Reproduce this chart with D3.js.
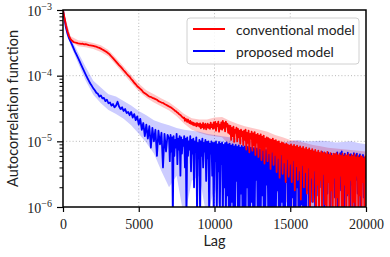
<!DOCTYPE html>
<html>
<head>
<meta charset="utf-8">
<script src="https://cdn.jsdelivr.net/npm/d3@7"></script>
<style>
  body { margin: 0; background: #fff; }
  svg { display: block; }
</style>
</head>
<body>
<div id="chart"></div>
<script>
// autocorrelation
// head: lags 0..6900 every 100, tail: lags 7000..20000 every 50 (the noisy part)
// values <= 0 are negative correlations, they fall below the log axis
const redHead = [
  1.0e-3, 7.6e-4, 5.8e-4, 4.7e-4, 4.0e-4, 3.6e-4, 3.4e-4, 3.25e-4, 3.2e-4, 3.15e-4,
  3.1e-4, 3.08e-4, 3.05e-4, 3.06e-4, 3.0e-4, 3.01e-4, 2.97e-4, 2.93e-4, 2.9e-4, 2.87e-4,
  2.84e-4, 2.8e-4, 2.76e-4, 2.7e-4, 2.65e-4, 2.58e-4, 2.5e-4, 2.43e-4, 2.36e-4, 2.27e-4,
  2.18e-4, 2.08e-4, 1.96e-4, 1.85e-4, 1.74e-4, 1.64e-4, 1.54e-4, 1.45e-4, 1.37e-4, 1.29e-4,
  1.21e-4, 1.14e-4, 1.07e-4, 1.01e-4, 9.6e-5, 8.9e-5, 8.4e-5, 7.8e-5, 7.4e-5, 6.9e-5,
  6.6e-5, 6.3e-5, 6.0e-5, 5.6e-5, 5.4e-5, 5.2e-5, 5.0e-5, 4.8e-5, 4.75e-5, 4.6e-5,
  4.5e-5, 4.4e-5, 4.3e-5, 4.1e-5, 4.0e-5, 3.9e-5, 3.85e-5, 3.7e-5, 3.6e-5, 3.5e-5
];
const redTail = [
  3.4e-5, 3.35e-5, 3.32e-5, 3.25e-5, 3.18e-5, 3.12e-5, 3.05e-5, 3.0e-5, 2.9e-5, 2.88e-5,
  2.8e-5, 2.74e-5, 2.7e-5, 2.6e-5, 2.55e-5, 2.52e-5, 2.45e-5, 2.36e-5, 2.32e-5, 2.26e-5,
  2.3e-5, 2.05e-5, 2.2e-5, 2.12e-5, 1.98e-5, 2.15e-5, 2.0e-5, 1.9e-5, 2.05e-5, 1.85e-5,
  1.96e-5, 1.8e-5, 1.92e-5, 1.75e-5, 1.88e-5, 1.82e-5, 1.7e-5, 1.9e-5, 1.74e-5, 1.84e-5,
  1.68e-5, 1.88e-5, 1.58e-5, 1.8e-5, 1.65e-5, 1.9e-5, 1.55e-5, 1.75e-5, 1.85e-5, 1.52e-5,
  1.7e-5, 1.86e-5, 1.6e-5, 1.78e-5, 1.55e-5, 1.92e-5, 1.65e-5, 1.8e-5, 1.55e-5, 1.95e-5,
  1.6e-5, 1.98e-5, 1.45e-5, 1.85e-5, 1.7e-5, 2.0e-5, 1.4e-5, 1.8e-5, 1.55e-5, 1.95e-5,
  1.5e-5, 2.05e-5, 1.6e-5, 1.9e-5, 1.42e-5, 2.0e-5, 1.68e-5, 1.85e-5, 1.35e-5, 1.75e-5,
  1.3e-5, 1.72e-5, 1.05e-5, 1.6e-5, 1.2e-5, 1.68e-5, 9.8e-6, 1.5e-5, 1.35e-5, 1.62e-5,
  1.0e-5, 1.55e-5, 1.15e-5, 1.45e-5, 9.2e-6, 1.5e-5, 1.2e-5, 1.4e-5, 8.8e-6, 1.45e-5,
  1.05e-5, 1.5e-5, 7.5e-6, 1.35e-5, 9.5e-6, 1.45e-5, 6.8e-6, 1.3e-5, 1.1e-5, 1.4e-5,
  7.2e-6, 1.32e-5, 8.8e-6, 1.38e-5, 6.2e-6, 1.25e-5, 9.6e-6, 1.3e-5, 5.8e-6, 1.22e-5,
  8.0e-6, 1.28e-5, 5.2e-6, 1.18e-5, 7.4e-6, 1.22e-5, 4.6e-6, 1.1e-5, 8.4e-6, 1.15e-5,
  5.0e-6, 1.12e-5, 6.6e-6, 1.08e-5, 3.8e-6, 1.05e-5, 7.0e-6, 1.1e-5, 4.4e-6, 1.02e-5,
  6.2e-6, 1.04e-5, 3.4e-6, 9.8e-6, 5.6e-6, 1.0e-5, 2.8e-6, 9.2e-6, 6.4e-6, 9.6e-6,
  3.2e-6, 9.4e-6, 4.8e-6, 9.0e-6, 2.4e-6, 9.2e-6, 5.4e-6, 8.8e-6, 2.9e-6, 8.6e-6,
  4.6e-6, 9.0e-6, 2.4e-6, 8.4e-6, 5.2e-6, 8.8e-6, 1.8e-6, 8.2e-6, 4.2e-6, 8.6e-6,
  2.6e-6, 8.0e-6, 3.6e-6, 8.4e-6, 1.3e-6, 7.8e-6, 4.4e-6, 8.2e-6, 2.0e-6, 7.6e-6,
  3.4e-6, 8.0e-6, 1.6e-6, 7.4e-6, 4.0e-6, 7.8e-6, -1e-6, 7.2e-6, 2.8e-6, 7.6e-6,
  1.2e-6, 7.0e-6, 3.6e-6, 7.4e-6, -2e-6, 6.8e-6, 2.2e-6, 7.2e-6, 9e-7, 6.6e-6,
  2.6e-6, 7.0e-6, -1e-6, 6.6e-6, 3.2e-6, 6.8e-6, 1.1e-6, 6.4e-6, -2e-6, 6.9e-6,
  2.4e-6, 6.2e-6, -1e-6, 6.6e-6, 1.8e-6, 6.0e-6, -3e-6, 6.5e-6, 2.8e-6, 6.3e-6,
  -1e-6, 6.6e-6, 1.4e-6, 6.1e-6, -2e-6, 6.4e-6, 3.0e-6, 6.0e-6, 8e-7, 6.5e-6,
  -1e-6, 5.9e-6, 2.2e-6, 6.3e-6, -2e-6, 6.0e-6, 1.6e-6, 6.4e-6, -1e-6, 5.8e-6,
  2.6e-6, 6.2e-6, -1e-6, 5.9e-6, 1.2e-6, 6.4e-6, -2e-6, 5.7e-6, 3.0e-6, 6.1e-6,
  -1e-6, 5.6e-6, 1.5e-6, 6.0e-6, -2e-6, 5.8e-6, 2.4e-6, 5.5e-6, -1e-6, 5.9e-6,
  3.0e-6
];
const blueHead = [
  1.0e-3, 7.2e-4, 5.3e-4, 4.3e-4, 3.7e-4, 3.3e-4, 2.95e-4, 2.6e-4, 2.3e-4, 2.07e-4,
  1.85e-4, 1.65e-4, 1.46e-4, 1.3e-4, 1.16e-4, 1.04e-4, 9.3e-5, 8.4e-5, 7.6e-5, 7.0e-5,
  6.4e-5, 6.0e-5, 5.5e-5, 5.3e-5, 4.8e-5, 5.0e-5, 4.5e-5, 4.6e-5, 4.1e-5, 4.3e-5,
  3.8e-5, 3.9e-5, 3.5e-5, 3.7e-5, 3.3e-5, 3.5e-5, 4.0e-5, 3.4e-5, 3.1e-5, 3.3e-5,
  2.9e-5, 3.1e-5, 2.7e-5, 2.8e-5, 2.5e-5, 2.8e-5, 2.3e-5, 2.6e-5, 2.1e-5, 2.4e-5,
  1.8e-5, 2.2e-5, 1.5e-5, 1.9e-5, 1.2e-5, 1.8e-5, 1.1e-5, 1.7e-5, 8e-6, 1.6e-5,
  1.0e-5, 1.5e-5, 6e-6, 1.45e-5, 9e-6, 1.35e-5, 4e-6, 1.3e-5, 7e-6, 1.25e-5
];
const blueTail = [
  1.1e-5, 5e-6, 1.25e-5, 7e-6, 1.15e-5, -1e-6, 1.2e-5, 6e-6, 1.05e-5, 8e-6,
  1.3e-5, 4.5e-6, 1.1e-5, 7.5e-6, 1.2e-5, 3e-6, 1.15e-5, 6.5e-6, 1.05e-5, 8.5e-6,
  1.2e-5, 4e-6, 1.1e-5, -1e-6, 1.15e-5, 6e-6, 1.0e-5, 7.5e-6, 1.2e-5, 3.5e-6,
  1.05e-5, 6.5e-6, 1.1e-5, 2e-6, 1.0e-5, 7e-6, 1.15e-5, -1e-6, 9.5e-6, 5.5e-6,
  1.05e-5, -1e-6, 1.0e-5, 6e-6, 1.1e-5, 4e-6, 9.5e-6, 7e-6, 1.05e-5, 2.5e-6,
  9.8e-6, 5.5e-6, 1.0e-5, -1e-6, 9.2e-6, 6.5e-6, 1.0e-5, 3e-6, 9.5e-6, -1e-6,
  9.5e-6, 5e-6, 1.0e-5, -1e-6, 9e-6, 3.5e-6, 9.8e-6, -1e-6, 9.2e-6, 4.5e-6,
  9.6e-6, -1e-6, 8.8e-6, 2e-6, 9.4e-6, -2e-6, 9.6e-6, 1.5e-6, 9e-6, -1e-6,
  9.2e-6, -1e-6, 8.6e-6, 1.2e-6, 9.0e-6, -2e-6, 8.4e-6, -1e-6, 8.8e-6, 2.5e-6,
  8.2e-6, -1e-6, 8.7e-6, -2e-6, 8.0e-6, 1.6e-6, 8.5e-6, -1e-6, 8.1e-6, -2e-6,
  8.4e-6, -1e-6, 7.8e-6, 2e-6, 8.2e-6, -2e-6, 7.6e-6, -1e-6, 8.0e-6, 1.2e-6,
  7.4e-6, -1e-6, 7.9e-6, -2e-6, 7.5e-6, 2.6e-6, 7.8e-6, -1e-6, 7.2e-6, -2e-6,
  7.6e-6, -1e-6, 7.2e-6, 1.5e-6, 7.5e-6, -2e-6, 7.0e-6, -1e-6, 7.4e-6, 2.2e-6,
  6.9e-6, -1e-6, 7.3e-6, -2e-6, 6.8e-6, 1.0e-6, 7.2e-6, -1e-6, 6.9e-6, -2e-6,
  7.4e-6, -1e-6, 7.0e-6, 1.8e-6, 7.3e-6, -2e-6, 6.8e-6, -1e-6, 7.5e-6, 1.2e-6,
  7.0e-6, -1e-6, 7.4e-6, -2e-6, 6.9e-6, 2.4e-6, 7.6e-6, -1e-6, 7.1e-6, -2e-6,
  7.2e-6, -1e-6, 7.6e-6, 1.4e-6, 7.0e-6, -2e-6, 7.4e-6, -1e-6, 6.8e-6, 2.0e-6,
  7.2e-6, -1e-6, 6.6e-6, -2e-6, 7.0e-6, 1.1e-6, 6.7e-6, -1e-6, 7.1e-6, -2e-6,
  6.6e-6, -1e-6, 7.0e-6, 1.8e-6, 6.4e-6, -2e-6, 6.9e-6, 2.6e-6, 6.5e-6, 1.2e-6,
  7.0e-6, 3.2e-6, 6.2e-6, -1e-6, 6.7e-6, 2.4e-6, 6.0e-6, 1.5e-6, 6.6e-6, 3.0e-6,
  6.4e-6, 2.0e-6, 6.9e-6, 3.5e-6, 6.1e-6, -1e-6, 6.6e-6, 2.8e-6, 6.0e-6, 1.6e-6,
  6.7e-6, 3.2e-6, 6.2e-6, -1e-6, 6.5e-6, 2.2e-6, 5.9e-6, 3.6e-6, 6.4e-6, 1.4e-6,
  6.3e-6, 2.6e-6, 6.8e-6, -1e-6, 6.0e-6, 3.0e-6, 6.6e-6, 1.8e-6, 7.0e-6, 2.4e-6,
  6.1e-6, -1e-6, 6.5e-6, 3.4e-6, 6.0e-6, 1.5e-6, 6.7e-6, 2.8e-6, 6.2e-6, -1e-6,
  6.4e-6, 2.2e-6, 6.0e-6, 3.2e-6, 6.6e-6, -1e-6, 6.1e-6, 2.6e-6, 6.5e-6, 1.6e-6,
  5.9e-6, 3.0e-6, 6.3e-6, -1e-6, 5.8e-6, 2.4e-6, 6.2e-6, 1.4e-6, 5.6e-6, 2.8e-6,
  5.5e-6
];

// shaded spread around each curve, one value every 500 lags
const redUpper = [
  1.0e-3, 4.0e-4, 3.45e-4, 3.35e-4, 3.15e-4, 2.9e-4, 2.45e-4, 1.85e-4, 1.38e-4, 1.02e-4,
  7.6e-5, 6.0e-5, 5.2e-5, 4.5e-5, 3.95e-5, 3.25e-5, 2.6e-5, 2.25e-5, 2.15e-5, 2.15e-5,
  2.3e-5, 2.35e-5, 2.05e-5, 1.85e-5, 1.7e-5, 1.6e-5, 1.5e-5, 1.4e-5, 1.25e-5, 1.15e-5,
  1.05e-5, 1.0e-5, 9.4e-6, 8.8e-6, 8.4e-6, 8.0e-6, 7.8e-6, 7.6e-6, 7.4e-6, 7.2e-6, 7.0e-6
];
const redLower = [
  9.5e-4, 3.3e-4, 2.8e-4, 2.7e-4, 2.55e-4, 2.3e-4, 1.95e-4, 1.45e-4, 1.06e-4, 7.8e-5,
  5.8e-5, 4.6e-5, 3.9e-5, 3.4e-5, 2.95e-5, 2.4e-5, 1.85e-5, 1.5e-5, 1.35e-5, 1.25e-5,
  1.2e-5, 1.15e-5, 8.5e-6, 6.5e-6, 5.0e-6, 4.0e-6, 3.0e-6, 2.4e-6, 1.8e-6, 1.4e-6,
  1.0e-6, 7e-7, -1e-6, -1e-6, -1e-6, -1e-6, -1e-6, -1e-6, -1e-6, -1e-6, -1e-6
];
const blueUpper = [
  1.0e-3, 3.8e-4, 2.25e-4, 1.35e-4, 8.4e-5, 6.6e-5, 5.2e-5, 4.8e-5, 4.1e-5, 3.5e-5,
  2.9e-5, 2.5e-5, 2.1e-5, 1.9e-5, 1.75e-5, 1.6e-5, 1.5e-5, 1.45e-5, 1.4e-5, 1.3e-5,
  1.25e-5, 1.2e-5, 1.15e-5, 1.1e-5, 1.05e-5, 1.0e-5, 9.8e-6, 9.6e-6, 9.4e-6, 9.6e-6,
  1.0e-5, 1.05e-5, 1.0e-5, 1.0e-5, 1.02e-5, 1.0e-5, 9.6e-6, 9.8e-6, 1.0e-5, 9.4e-6, 9.0e-6
];
const blueLower = [
  9.6e-4, 2.9e-4, 1.55e-4, 8.4e-5, 5.1e-5, 3.8e-5, 3.0e-5, 2.6e-5, 2.2e-5, 1.75e-5,
  1.3e-5, 9.5e-6, 6.5e-6, 3.5e-6, 2e-6, 3e-6, -1e-6, 2.5e-6, 3e-6, -1e-6,
  2e-6, -1e-6, -1e-6, -1e-6, -1e-6, -1e-6, -1e-6, -1e-6, -1e-6, -1e-6,
  -1e-6, -1e-6, -1e-6, -1e-6, -1e-6, -1e-6, -1e-6, -1e-6, -1e-6, -1e-6, -1e-6
];

const headStep = 100;
const tailStart = 7000;
const tailStep = 50;
const bandStep = 500;
const xTicks = [0, 5000, 10000, 15000, 20000];
const yTicks = [1e-6, 1e-5, 1e-4, 1e-3];
const seriesNames = ["conventional model", "proposed model"];
const seriesColors = ["#ff0000", "#0000ff"];

// chart size
const margin = { top: 10, right: 24, bottom: 50, left: 63 };
const width = 390 - margin.left - margin.right;
const height = 257 - margin.top - margin.bottom;

const svg = d3.select("#chart")
    .append("svg")
    .attr("width", width + margin.left + margin.right)
    .attr("height", height + margin.top + margin.bottom)
    .append("g")
    .attr("transform", `translate(${margin.left},${margin.top})`);

const x = d3.scaleLinear().domain([0, 20000]).range([0, width]);
const y = d3.scaleLog().domain([1e-6, 1e-3]).range([height, 0]);

// non-positive values get pushed below the frame, like matplotlib clipping
const yPos = v => v > 0 ? y(v) : height + 12;

svg.append("defs").append("clipPath").attr("id", "plot-clip")
    .append("rect").attr("width", width).attr("height", height);

// grid
const grid = svg.append("g").attr("stroke", "#b0b0b0").attr("stroke-width", 0.9)
    .attr("stroke-dasharray", "1,2.2");
grid.selectAll(".vg").data(xTicks.slice(1, -1)).enter().append("line")
    .attr("x1", d => x(d)).attr("x2", d => x(d)).attr("y1", 0).attr("y2", height);
grid.selectAll(".hg").data(yTicks.slice(1, -1)).enter().append("line")
    .attr("x1", 0).attr("x2", width).attr("y1", d => y(d)).attr("y2", d => y(d));

const toPoints = (head, tail) => head.map((v, i) => ({ lag: i * headStep, v: v }))
    .concat(tail.map((v, i) => ({ lag: tailStart + i * tailStep, v: v })));
const toBand = (lo, hi) => lo.map((v, i) => ({ lag: i * bandStep, lo: v, hi: hi[i] }));

const line = d3.line().x(d => x(d.lag)).y(d => yPos(d.v));
const area = d3.area().x(d => x(d.lag)).y0(d => yPos(d.lo)).y1(d => yPos(d.hi));

const plot = svg.append("g").attr("clip-path", "url(#plot-clip)");

plot.append("path").datum(toBand(redLower, redUpper))
    .attr("d", area).attr("fill", seriesColors[0]).attr("fill-opacity", 0.22);
plot.append("path").datum(toBand(blueLower, blueUpper))
    .attr("d", area).attr("fill", seriesColors[1]).attr("fill-opacity", 0.2);
plot.append("path").datum(toPoints(blueHead, blueTail))
    .attr("d", line).attr("fill", "none").attr("stroke", seriesColors[1])
    .attr("stroke-width", 1.8).attr("stroke-linejoin", "round");
plot.append("path").datum(toPoints(redHead, redTail))
    .attr("d", line).attr("fill", "none").attr("stroke", seriesColors[0])
    .attr("stroke-width", 1.8).attr("stroke-linejoin", "round");

// axes
const xAxis = svg.append("g")
    .attr("transform", `translate(0,${height})`)
    .call(d3.axisBottom(x).tickValues(xTicks).tickSize(5).tickSizeOuter(0).tickFormat(d3.format("d")));
xAxis.select(".domain").remove();
xAxis.selectAll(".tick line").attr("stroke", "#000").attr("stroke-width", 1.2);
xAxis.selectAll(".tick text")
    .attr("y", 22).attr("dy", 0)
    .attr("font-family", "'Liberation Serif', serif").attr("font-size", 14).attr("fill", "#222");

const minorTicks = y.ticks().filter(t => !yTicks.some(m => Math.abs(m - t) / m < 1e-6));
const yMinor = svg.append("g")
    .call(d3.axisLeft(y).tickValues(minorTicks).tickSize(3.5).tickFormat(""));
yMinor.select(".domain").remove();
yMinor.selectAll(".tick line").attr("stroke", "#000").attr("stroke-width", 1);

const yAxis = svg.append("g")
    .call(d3.axisLeft(y).tickValues(yTicks).tickSize(6).tickSizeOuter(0).tickPadding(5).tickFormat(""));
yAxis.select(".domain").remove();
yAxis.selectAll(".tick line").attr("stroke", "#000").attr("stroke-width", 1.2);
yAxis.selectAll(".tick text").each(function (d) {
    const t = d3.select(this).text("")
        .attr("dy", 5)
        .attr("font-family", "'Liberation Serif', serif").attr("font-size", 14).attr("fill", "#222");
    t.append("tspan").text("10");
    t.append("tspan").attr("dy", -5.5).attr("font-size", 10)
        .text("\u2212" + Math.round(-Math.log10(d)));
});

// frame
svg.append("rect").attr("width", width).attr("height", height)
    .attr("fill", "none").attr("stroke", "#000").attr("stroke-width", 1.5);

// labels
svg.append("text")
    .attr("x", width / 2).attr("y", height + 39)
    .attr("text-anchor", "middle")
    .attr("font-family", "Lato, sans-serif").attr("font-size", 14.5).attr("fill", "#222")
    .text("Lag");
svg.append("text")
    .attr("transform", `translate(${18 - margin.left},${height / 2}) rotate(-90)`)
    .attr("text-anchor", "middle")
    .attr("font-family", "Lato, sans-serif").attr("font-size", 14.5).attr("fill", "#222")
    .text("Autocorrelation function");

// legend
const legend = svg.append("g").attr("transform", `translate(${187 - margin.left},${18 - margin.top})`);
legend.append("rect").attr("width", 172).attr("height", 46).attr("rx", 3)
    .attr("fill", "#fff").attr("fill-opacity", 0.85).attr("stroke", "#d0d0d0");
seriesNames.forEach((name, i) => {
    const row = legend.append("g").attr("transform", `translate(0,${11 + i * 22})`);
    row.append("line").attr("x1", 6).attr("x2", 38).attr("stroke", seriesColors[i]).attr("stroke-width", 2);
    row.append("text").attr("x", 49).attr("y", 5.5)
        .attr("font-family", "Lato, sans-serif").attr("font-size", 13.8).attr("fill", "#222")
        .text(name);
});
</script>
</body>
</html>
